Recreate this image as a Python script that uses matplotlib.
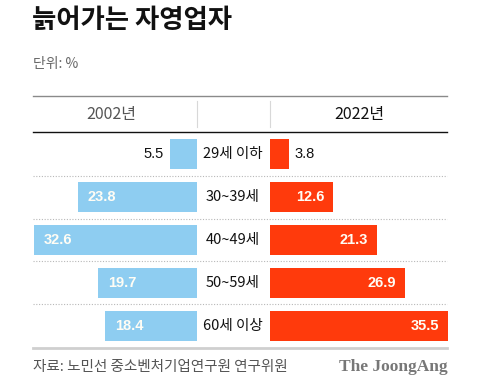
import matplotlib
matplotlib.use("Agg")
import matplotlib.pyplot as plt
from matplotlib.lines import Line2D

plt.rcParams['font.family'] = ['Noto Sans CJK KR', 'DejaVu Sans']

categories = ['29세 이하', '30~39세', '40~49세', '50~59세', '60세 이상']
v2002 = [5.5, 23.8, 32.6, 19.7, 18.4]
v2022 = [3.8, 12.6, 21.3, 26.9, 35.5]
title = '늙어가는 자영업자'
unit = '단위: %'
hdr_left = '2002년'
hdr_right = '2022년'
source = '자료: 노민선 중소벤처기업연구원 연구위원'
brand = 'The JoongAng'

BLUE = '#8ecdf1'
RED = '#ff3a0c'

W, H = 480, 389
fig = plt.figure(figsize=(W / 100, H / 100), dpi=100)

def fx(px):
    return px / W

def fy(py):
    return 1 - py / H

y_top, y_bot = 133, 347
axL = fig.add_axes([fx(33), fy(y_bot), fx(197 - 33), (y_bot - y_top) / H])
axR = fig.add_axes([fx(270), fy(y_bot), fx(447.5 - 270), (y_bot - y_top) / H])
for ax in (axL, axR):
    ax.set_ylim(len(categories) - 0.5, -0.5)
    ax.axis('off')
axL.set_xlim((197 - 33) / 5.0, 0)
axR.set_xlim(0, (447.5 - 270) / 5.0)

ys = list(range(len(categories)))
bh = 0.7
axL.barh(ys, v2002, height=bh, color=BLUE)
axR.barh(ys, v2022, height=bh, color=RED)

vfont = ['Liberation Sans', 'DejaVu Sans']
for y, v in zip(ys, v2002):
    if v > 10:
        axL.annotate(f'{v}', (v, y), xytext=(7, 0), textcoords='offset points',
                     ha='left', va='center', color='#fffdf5', fontsize=10.5,
                     fontweight='bold', family=vfont)
    else:
        axL.annotate(f'{v}', (v, y), xytext=(-4, 0), textcoords='offset points',
                     ha='right', va='center', color='#111111', fontsize=10.5,
                     family=vfont)
for y, v in zip(ys, v2022):
    if v > 10:
        axR.annotate(f'{v}', (v, y), xytext=(-6, 0), textcoords='offset points',
                     ha='right', va='center', color='#fffdf5', fontsize=10.5,
                     fontweight='bold', family=vfont)
    else:
        axR.annotate(f'{v}', (v, y), xytext=(4, 0), textcoords='offset points',
                     ha='left', va='center', color='#111111', fontsize=10.5,
                     family=vfont)

row_h = (y_bot - y_top) / len(categories)
for i, c in enumerate(categories):
    cy = y_top + row_h * (i + 0.5)
    fig.text(fx(233), fy(cy), c, ha='center', va='center', fontsize=10.5, color='#111111')
    if i > 0:
        yy = y_top + row_h * i
        fig.add_artist(Line2D([fx(33), fx(447)], [fy(yy), fy(yy)], color='#b8b8b8',
                              lw=0.8, linestyle=(0, (1, 1.5))))

fig.add_artist(Line2D([fx(33), fx(447)], [fy(96), fy(96)], color='#8a8a8a', lw=1.0))
fig.add_artist(Line2D([fx(33), fx(447)], [fy(132), fy(132)], color='#111111', lw=1.0))
fig.add_artist(Line2D([fx(33), fx(447)], [fy(347.5), fy(347.5)], color='#cfcfcf', lw=2.0))
for xv in (197, 270):
    fig.add_artist(Line2D([fx(xv), fx(xv)], [fy(101), fy(127)], color='#d8d8d8', lw=0.8))

fig.text(fx(32), fy(20), title, ha='left', va='center', fontsize=19, fontweight='black', color='#111111')
fig.text(fx(33), fy(64), unit, ha='left', va='center', fontsize=10, color='#666666')
fig.text(fx(111), fy(114), hdr_left, ha='center', va='center', fontsize=11.5, color='#555555')
fig.text(fx(359), fy(114), hdr_right, ha='center', va='center', fontsize=11.5, color='#111111')
fig.text(fx(33), fy(367), source, ha='left', va='center', fontsize=10.5, color='#555555')
fig.text(fx(448), fy(367), brand, ha='right', va='center', fontsize=12.5, fontweight='bold',
         color='#777777', family=['Liberation Serif', 'DejaVu Serif'])

fig.savefig('out.png', dpi=100, facecolor='white')
